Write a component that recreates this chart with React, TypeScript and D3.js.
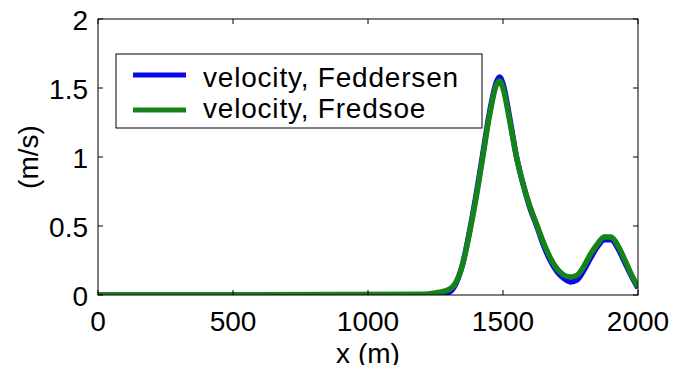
import { useEffect, useRef } from "react";
import * as d3 from "d3";

// cross-shore position (m)
const xs = [0, 1200, 1250, 1300, 1325, 1350, 1375, 1400, 1425, 1450, 1475, 1487, 1500, 1525, 1550, 1575, 1600, 1625, 1650, 1675, 1700, 1725, 1750, 1775, 1800, 1825, 1850, 1875, 1900, 1925, 1950, 1975, 2000];

// velocity (m/s)
const feddersen = [0, 0, 0, 0.02, 0.08, 0.22, 0.45, 0.72, 1.02, 1.32, 1.54, 1.58, 1.53, 1.28, 1.0, 0.8, 0.63, 0.5, 0.36, 0.25, 0.17, 0.12, 0.095, 0.11, 0.18, 0.27, 0.35, 0.4, 0.4, 0.34, 0.24, 0.14, 0.05];
const fredsoe = [0, 0.005, 0.015, 0.04, 0.09, 0.22, 0.44, 0.7, 1.0, 1.3, 1.52, 1.55, 1.5, 1.26, 1.0, 0.8, 0.64, 0.51, 0.38, 0.27, 0.19, 0.145, 0.13, 0.145, 0.21, 0.3, 0.37, 0.42, 0.42, 0.36, 0.26, 0.15, 0.06];

const xTicks = [0, 500, 1000, 1500, 2000];
const yTicks = [0, 0.5, 1, 1.5, 2];

const series = [
  { name: "velocity, Feddersen", values: feddersen, color: "#0a0ae6" },
  { name: "velocity, Fredsoe", values: fredsoe, color: "#16831a" },
];

export default function App() {
  const ref = useRef<SVGSVGElement>(null);

  useEffect(() => {
    const width = 677;
    const height = 373;
    const left = 98, right = 638, top = 19, bottom = 295;
    const font = "Arial, 'Liberation Sans', sans-serif";
    const fs = 28;

    const svg = d3.select(ref.current);
    svg.selectAll("*").remove();

    const x = d3.scaleLinear().domain([0, 2000]).range([left, right]);
    const y = d3.scaleLinear().domain([0, 2]).range([bottom, top]);

    svg.append("rect").attr("width", width).attr("height", height).attr("fill", "white");

    // curves
    const line = d3.line<number>()
      .x((d, i) => x(xs[i]))
      .y((d) => y(d))
      .curve(d3.curveMonotoneX);

    const plot = svg.append("g");
    plot.append("clipPath").attr("id", "clip")
      .append("rect").attr("x", left).attr("y", top).attr("width", right - left).attr("height", bottom - top);

    series.forEach((s) => {
      plot.append("path")
        .attr("d", line(s.values))
        .attr("fill", "none")
        .attr("stroke", s.color)
        .attr("stroke-width", 5.5)
        .attr("stroke-linejoin", "round")
        .attr("clip-path", "url(#clip)");
    });

    // axes box
    svg.append("rect")
      .attr("x", left).attr("y", top)
      .attr("width", right - left).attr("height", bottom - top)
      .attr("fill", "none").attr("stroke", "black").attr("stroke-width", 1);

    const tl = 5;
    xTicks.forEach((t) => {
      svg.append("line").attr("x1", x(t)).attr("x2", x(t)).attr("y1", bottom).attr("y2", bottom - tl).attr("stroke", "black");
      svg.append("line").attr("x1", x(t)).attr("x2", x(t)).attr("y1", top).attr("y2", top + tl).attr("stroke", "black");
      svg.append("text")
        .attr("x", x(t)).attr("y", bottom + 36)
        .attr("text-anchor", "middle")
        .attr("font-family", font).attr("font-size", fs)
        .text(t);
    });

    yTicks.forEach((t) => {
      svg.append("line").attr("x1", left).attr("x2", left + tl).attr("y1", y(t)).attr("y2", y(t)).attr("stroke", "black");
      svg.append("line").attr("x1", right).attr("x2", right - tl).attr("y1", y(t)).attr("y2", y(t)).attr("stroke", "black");
      svg.append("text")
        .attr("x", left - 10).attr("y", y(t) + 11)
        .attr("text-anchor", "end")
        .attr("font-family", font).attr("font-size", fs)
        .text(t);
    });

    svg.append("text")
      .attr("x", (left + right) / 2).attr("y", 363)
      .attr("text-anchor", "middle")
      .attr("font-family", font).attr("font-size", fs)
      .text("x (m)");

    svg.append("text")
      .attr("transform", `translate(38, ${(top + bottom) / 2}) rotate(-90)`)
      .attr("text-anchor", "middle")
      .attr("font-family", font).attr("font-size", fs)
      .text("(m/s)");

    // legend
    const lg = svg.append("g");
    lg.append("rect")
      .attr("x", 116).attr("y", 54).attr("width", 366).attr("height", 74)
      .attr("fill", "white").attr("stroke", "black").attr("stroke-width", 1);
    series.forEach((s, i) => {
      const ly = 75 + i * 35;
      lg.append("line")
        .attr("x1", 133).attr("x2", 186).attr("y1", ly).attr("y2", ly)
        .attr("stroke", s.color).attr("stroke-width", 5);
      lg.append("text")
        .attr("x", 203).attr("y", 87 + i * 31)
        .attr("font-family", font).attr("font-size", fs)
        .attr("letter-spacing", 0.8)
        .text(s.name);
    });
  }, []);

  return <svg ref={ref} width={677} height={373} style={{ display: "block", margin: -8 }} />;
}
